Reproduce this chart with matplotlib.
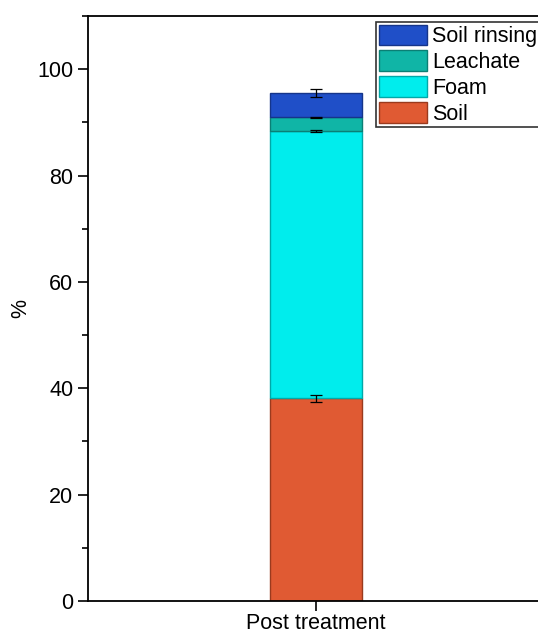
import matplotlib.pyplot as plt
from matplotlib.ticker import MultipleLocator

plt.rcParams['font.family'] = ['Liberation Sans', 'DejaVu Sans']

# 처리 후 물질 분포 (%)
group = ['Post treatment']
components = ['Soil', 'Foam', 'Leachate', 'Soil rinsing']
values = [38.1, 50.3, 2.6, 4.5]
errors = [0.6, 0.2, 0.1, 0.8]
colors = ['#e05a33', '#00eded', '#10b5a6', '#1f4fc8']
edges = ['#9a3a1e', '#00a8a8', '#0b7f74', '#15358a']

fig = plt.figure(figsize=(5.38, 6.33), dpi=100)
ax = fig.add_axes([88 / 538, 32 / 633, 456 / 538, 585 / 633])

bottom = 0
handles = []
for name, v, e, c, ec in zip(components, values, errors, colors, edges):
    b = ax.bar(0, v, width=0.4, bottom=bottom, color=c, edgecolor=ec, linewidth=1.0, label=name)
    ax.errorbar(0, bottom + v, yerr=e, color='black', capsize=4.5, elinewidth=0.9, capthick=0.9)
    handles.append(b)
    bottom += v

ax.set_xlim(-1, 1)
ax.set_ylim(0, 110)
ax.set_xticks([0])
ax.set_xticklabels(group)
ax.yaxis.set_major_locator(MultipleLocator(20))
ax.yaxis.set_minor_locator(MultipleLocator(10))
ax.tick_params(axis='both', which='major', direction='out', length=7, width=1.2, labelsize=15.5)
ax.tick_params(axis='x', pad=1.5)
ax.tick_params(axis='y', which='minor', direction='out', length=4, width=1.2)
for s in ax.spines.values():
    s.set_linewidth(1.3)
ax.set_ylabel('%', fontsize=15.5)
ax.yaxis.set_label_coords(-0.125, 0.5)

leg = ax.legend(handles[::-1], components[::-1], loc='upper left',
                bbox_to_anchor=(376 / 538, 1 - 22 / 633), bbox_transform=fig.transFigure,
                fontsize=15.5, frameon=True, fancybox=False, edgecolor='black',
                handlelength=2.25, handleheight=1.1, labelspacing=0.15,
                handletextpad=0.25, borderpad=0.12, borderaxespad=0)
leg.get_frame().set_linewidth(1.2)

plt.savefig('out.png', dpi=100)
plt.close()
